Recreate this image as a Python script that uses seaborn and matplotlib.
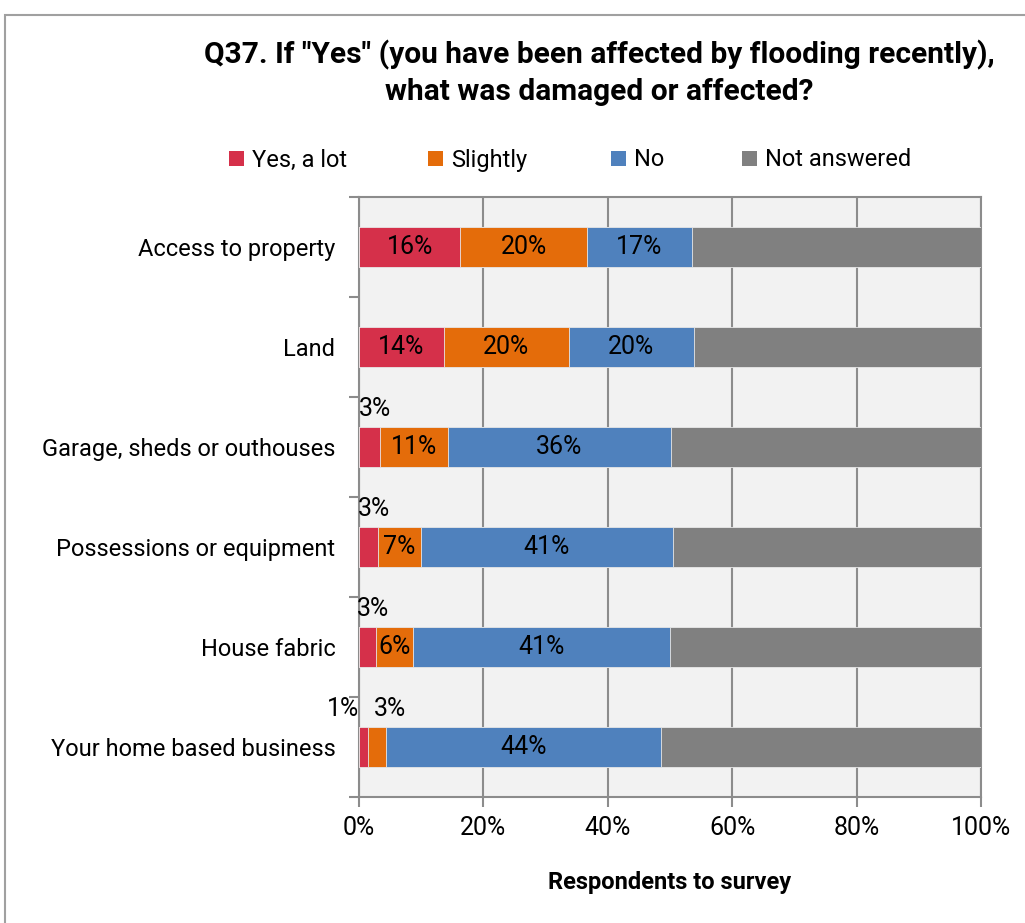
import matplotlib
matplotlib.use("Agg")
import matplotlib.pyplot as plt
from matplotlib import font_manager
from matplotlib.patches import Rectangle, Patch
from matplotlib.ticker import FixedLocator, FuncFormatter
import seaborn as sns
import pandas as pd
import numpy as np

# ---- data ----
categories = ["Access to property", "Land", "Garage, sheds or outhouses",
              "Possessions or equipment", "House fabric", "Your home based business"]
yes_a_lot = [16.3, 13.6, 3.4, 3.1, 2.7, 1.4]
slightly = [20.4, 20.1, 10.9, 6.8, 6.0, 2.9]
no = [16.8, 20.2, 35.8, 40.6, 41.3, 44.3]
not_answered = [100 - a - b - c for a, b, c in zip(yes_a_lot, slightly, no)]
series_names = ["Yes, a lot", "Slightly", "No", "Not answered"]
colors = ["#D5304A", "#E46C0A", "#4F81BD", "#808080"]
x_ticks = [0, 20, 40, 60, 80, 100]

sns.set_theme(style="white")
avail = {f.name for f in font_manager.fontManager.ttflist}
family = "Liberation Sans Narrow" if "Liberation Sans Narrow" in avail else "Roboto"
plt.rcParams["font.family"] = [family, "DejaVu Sans"]
plt.rcParams["text.color"] = "#000000"
plt.rcParams["axes.labelcolor"] = "#000000"

fig = plt.figure(figsize=(10.25, 9.23), dpi=100)
ax = fig.add_axes([359 / 1025, 1 - 797 / 923, 622 / 1025, 600 / 923])
ax.set_facecolor("#F2F2F2")

df = pd.DataFrame({"category": categories, "Yes, a lot": yes_a_lot,
                   "Slightly": slightly, "No": no, "Not answered": not_answered})
cum = df[series_names].cumsum(axis=1)

# draw from the longest cumulative to the shortest so the stack shows
for name, col in reversed(list(zip(series_names, colors))):
    sns.barplot(x=cum[name], y=df["category"], orient="h", color=col, saturation=1,
                width=0.4, edgecolor="#E8E8E8", linewidth=0.6, ax=ax, zorder=3)

LBL = 18
# labels
for i in range(len(categories)):
    segs = [yes_a_lot[i], slightly[i], no[i]]
    left = 0
    for j, v in enumerate(segs):
        c = left + v / 2
        txt = f"{round(v)}%"
        if v >= 5:
            ax.text(c, i, txt, ha="center", va="center", fontsize=LBL, color="#000000", zorder=5)
        else:
            if i == len(categories) - 1:
                xx = -2.5 if j == 0 else 5.0
            else:
                xx = c + 0.9
            ax.text(xx, i - 0.38, txt, ha="center", va="center", fontsize=LBL,
                    color="#000000", zorder=5, clip_on=False)
        left += v

ax.set_xlim(0, 100)
ax.set_ylim(len(categories) - 0.5, -0.5)
ax.xaxis.set_major_locator(FixedLocator(x_ticks))
ax.xaxis.set_major_formatter(FuncFormatter(lambda v, p: f"{int(v)}%"))
ax.grid(axis="x", color="#8C8C8C", linewidth=1.5, zorder=1)
ax.set_axisbelow(True)
ax.yaxis.set_minor_locator(FixedLocator(np.arange(-0.5, len(categories), 1.0)))
ax.tick_params(axis="y", which="major", length=0, labelsize=17, pad=17, labelcolor="#000000")
ax.tick_params(axis="y", which="minor", left=True, length=7, width=1.5, color="#8C8C8C")
ax.tick_params(axis="x", which="major", bottom=True, length=7, width=1.5, color="#8C8C8C",
               labelsize=18, pad=7, labelcolor="#000000")
for s in ax.spines.values():
    s.set_color("#8C8C8C")
    s.set_linewidth(1.5)
ax.set_ylabel("")
ax.set_xlabel("Respondents to survey", fontsize=17, fontweight="bold", labelpad=22,
              color="#000000")

fig.text(599 / 1025, 1 - 55 / 923, 'Q37. If "Yes" (you have been affected by flooding recently),',
         ha="center", va="center", fontsize=21.5, fontweight="bold", color="#000000")
fig.text(599 / 1025, 1 - 92 / 923, "what was damaged or affected?",
         ha="center", va="center", fontsize=21.5, fontweight="bold", color="#000000")

# legend entries
leg_x = [229, 428, 611, 742]
for name, col, lx in zip(series_names, colors, leg_x):
    lg = fig.legend(handles=[Patch(facecolor=col, edgecolor="none", label=name)],
                    loc="center left", bbox_to_anchor=(lx / 1025, 1 - 160 / 923),
                    frameon=False, fontsize=17, handlelength=0.62, handleheight=0.62,
                    handletextpad=0.35, borderpad=0, borderaxespad=0)
    for t in lg.get_texts():
        t.set_color("#000000")

# outer frame
fig.patches.append(Rectangle((5 / 1025, -0.1), 1.2, 1.1 - 15 / 923,
                             transform=fig.transFigure, fill=False,
                             edgecolor="#A0A0A0", linewidth=1.5))

fig.savefig("out.png", dpi=100)
